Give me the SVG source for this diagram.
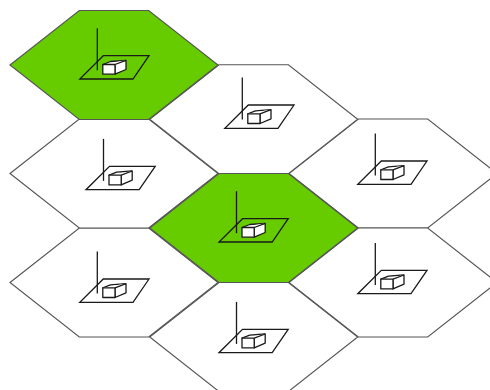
<svg xmlns="http://www.w3.org/2000/svg" width="490" height="390" viewBox="0 0 490 390">
<style>
.hex{fill:#fff;stroke:#555;stroke-width:1.15}
.on{fill:#66cc00}
.ln{fill:none;stroke:#1a1a1a;stroke-width:1.3}
.bx{fill:#fff;stroke:#1a1a1a;stroke-width:1.3;stroke-linejoin:round}
</style>
<defs>
<polygon id="h" points="-104,0 -34.7,-54.5 34.7,-54.5 104,0 34.7,54.5 -34.7,54.5"/>
<g id="icon">
<polygon class="ln" points="79.8,79 133,79 149,55.7 103.3,55.7"/>
<line class="ln" x1="97.3" y1="28.2" x2="97.3" y2="70.2"/>
<path class="bx" d="M102.8,64.5 L110.5,61.5 L126,60.3 L126,69.5 L115,74.2 L115,64.5 Z"/>
<path class="bx" d="M102.8,64.5 H115 L126,60.3 M102.8,64.5 V74.2 H115 V64.5 Z"/>
</g>
</defs>
<rect width="490" height="390" fill="#fff"/>
<g id="cell-r2"><use href="#h" class="hex" transform="translate(393,173.5)"/><use href="#icon" transform="translate(278,105.3)"/></g>
<g id="cell-r3"><use href="#h" class="hex" transform="translate(393,282.5)"/><use href="#icon" transform="translate(278,214.7)"/></g>
<g id="cell-b"><use href="#h" class="hex" transform="translate(253.7,337)"/><use href="#icon" transform="translate(139.2,273.7)"/></g>
<g id="cell-l3"><use href="#h" class="hex" transform="translate(114,282.5)"/><use href="#icon" transform="translate(0,223.3)"/></g>
<g id="cell-l2"><use href="#h" class="hex" transform="translate(114,173.5)"/><use href="#icon" transform="translate(6.2,110.7)"/></g>
<g id="cell-t"><use href="#h" class="hex" transform="translate(253.7,119.2)"/><use href="#icon" transform="translate(145,49.3)"/></g>
<g id="cell-a"><use href="#h" class="hex on" transform="translate(114,65)"/><use href="#icon"/></g>
<g id="cell-c"><use href="#h" class="hex on" transform="translate(253.7,228)"/><use href="#icon" transform="translate(139.2,163)"/></g>
</svg>
